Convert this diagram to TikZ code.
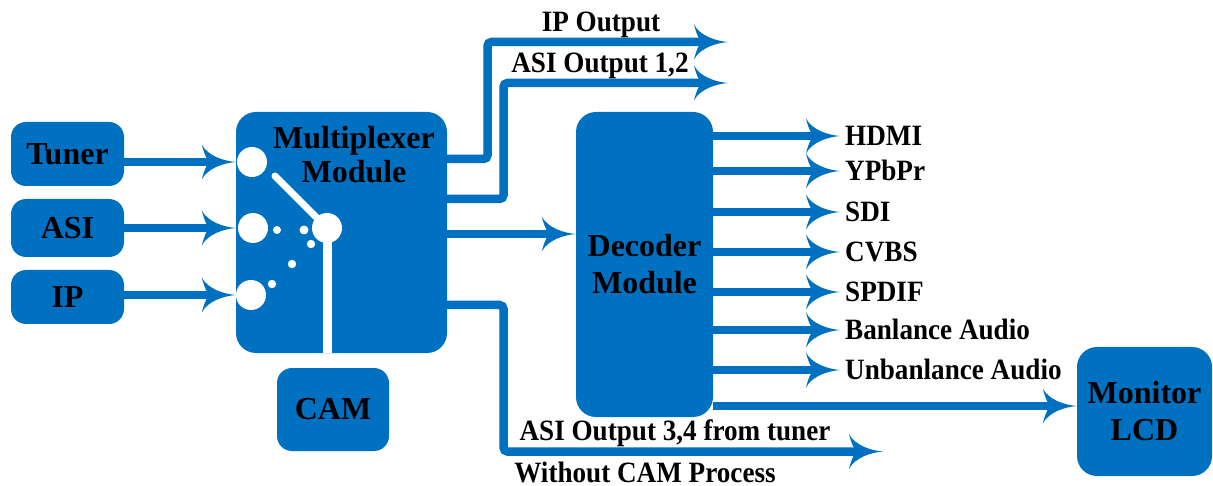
\documentclass[tikz,border=0pt]{standalone}
\usepackage{fontspec}
\setmainfont{Liberation Serif}
\newfontfamily\lblfont[FakeStretch=0.92]{Liberation Serif}
\definecolor{mblue}{RGB}{0,112,192}
\pgfdeclarearrow{
  name=Swept,
  setup code={
    \pgfarrowssettipend{0pt}
    \pgfarrowssetbackend{-34pt}
    \pgfarrowssetlineend{-23pt}
  },
  drawing code={
    \pgfsetfillcolor{mblue}
    \pgfpathmoveto{\pgfpointorigin}
    \pgfpathcurveto{\pgfpoint{-12pt}{1pt}}{\pgfpoint{-28pt}{6pt}}{\pgfpoint{-34pt}{17.5pt}}
    \pgfpathcurveto{\pgfpoint{-32pt}{9pt}}{\pgfpoint{-29pt}{3pt}}{\pgfpoint{-27pt}{0pt}}
    \pgfpathcurveto{\pgfpoint{-29pt}{-3pt}}{\pgfpoint{-32pt}{-9pt}}{\pgfpoint{-34pt}{-17.5pt}}
    \pgfpathcurveto{\pgfpoint{-28pt}{-6pt}}{\pgfpoint{-12pt}{-1pt}}{\pgfpointorigin}
    \pgfpathclose
    \pgfusepathqfill
  }
}
\begin{document}
\begin{tikzpicture}[x=1pt,y=-1pt,
  boxtxt/.style={font=\fontsize{32}{37}\selectfont\bfseries, align=center, text=black},
  smallbox/.style={boxtxt, fill=mblue, rounded corners=15pt, inner sep=0pt},
  bigbox/.style={boxtxt, fill=mblue, rounded corners=20pt, inner sep=0pt},
  lbl/.style={font=\lblfont\fontsize{29.5}{34}\selectfont\bfseries, anchor=west, inner xsep=5pt, inner ysep=0pt, text height=19pt, text depth=0pt},
  freetxt/.style={font=\lblfont\fontsize{29.5}{34}\selectfont\bfseries, anchor=base, inner sep=0pt},
  conn/.style={draw=mblue, line width=8.5pt, -Swept},
  hole/.style={fill=white}
]
\useasboundingbox (0,0) rectangle (1213,486);

% boxes
\node[smallbox, minimum width=113pt, minimum height=64pt] (tuner) at (67.5,154) {Tuner};
\node[smallbox, minimum width=113pt, minimum height=58pt] (asi) at (67.5,228) {ASI};
\node[smallbox, minimum width=113pt, minimum height=54pt] (ip) at (67.5,297) {IP};
\node[bigbox, minimum width=211pt, minimum height=241pt] (mux) at (341.5,232.5) {};
\node[boxtxt, font=\fontsize{32}{34}\selectfont\bfseries, anchor=north, inner sep=0pt] (muxlbl) at (354,126) {Multiplexer\\Module};
\node[smallbox, minimum width=112pt, minimum height=83pt] (cam) at (333,409.5) {CAM};
\node[bigbox, minimum width=137pt, minimum height=305pt] (dec) at (644.5,264.5) {Decoder\\Module};
\node[bigbox, minimum width=135pt, minimum height=129pt] (mon) at (1144.5,411.5) {Monitor\\LCD};

% switch inside multiplexer
\draw[white, line width=9pt] (327.5,228) -- (327.5,353);
\draw[white, line width=7pt, line cap=round] (275,176) -- (320,221);
\fill[hole] (252,162) circle[radius=15pt];
\fill[hole] (253,228) circle[radius=15pt];
\fill[hole] (251,295) circle[radius=15pt];
\fill[hole] (327,228) circle[radius=15pt];
\fill[hole] (277,230) circle[radius=4pt];
\fill[hole] (304,230) circle[radius=4.5pt];
\fill[hole] (311,244) circle[radius=4.2pt];
\fill[hole] (292,264) circle[radius=4.2pt];
\fill[hole] (272,284) circle[radius=4.2pt];

% inputs
\coordinate (yt) at (0,162);
\coordinate (ya) at (0,228);
\coordinate (yi) at (0,295);
\draw[conn] (tuner.east |- yt) -- (mux.west |- yt);
\draw[conn] (asi.east |- ya) -- (mux.west |- ya);
\draw[conn] (ip.east |- yi) -- (mux.west |- yi);

% multiplexer outputs
\coordinate (ipout) at (728,42);
\coordinate (asiout) at (728,83);
\coordinate (asi34) at (883,451.5);
\coordinate (m1) at (0,159);
\coordinate (m2) at (0,199);
\coordinate (m3) at (0,234);
\coordinate (m4) at (0,305);
\draw[conn, rounded corners=4pt] (mux.east |- m1) -- (487.5,159) |- (ipout);
\draw[conn, rounded corners=4pt] (mux.east |- m2) -- (503.5,199) |- (asiout);
\draw[conn] (mux.east |- m3) -- (dec.west |- m3);
\draw[conn, rounded corners=4pt] (mux.east |- m4) -- (503.5,305) |- (asi34);

\node[freetxt] (tipout) at (601,32) {IP Output};
\node[freetxt] (tasiout) at (600,73) {ASI Output 1,2};
\node[freetxt] (tasi34) at (675,440) {ASI Output 3,4 from tuner};
\node[freetxt] (tnocam) at (645,482) {Without CAM Process};

% decoder outputs
\node[lbl] (hdmi) at (840,136) {HDMI};
\node[lbl] (ypbpr) at (840,171) {YPbPr};
\node[lbl] (sdi) at (840,212) {SDI};
\node[lbl] (cvbs) at (840,252) {CVBS};
\node[lbl] (spdif) at (840,292) {SPDIF};
\node[lbl] (bal) at (840,330) {Banlance Audio};
\node[lbl] (unbal) at (840,370) {Unbanlance Audio};
\foreach \n in {hdmi,ypbpr,sdi,cvbs,spdif,bal,unbal}
  \draw[conn] (dec.east |- \n.west) -- (\n.west);

\coordinate (ym) at (0,406);
\draw[conn] (dec.east |- ym) -- (mon.west |- ym);
\end{tikzpicture}
\end{document}
